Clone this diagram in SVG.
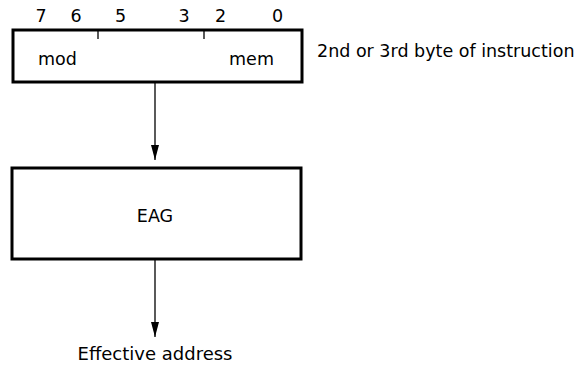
<svg xmlns="http://www.w3.org/2000/svg" width="580" height="365" viewBox="0 0 580 365">
<defs>
<marker id="ah" markerWidth="15" markerHeight="8" refX="15" refY="4" orient="auto" markerUnits="userSpaceOnUse" viewBox="0 0 15 8">
<path d="M0,0 L15,4 L0,8 Z" fill="#000"/>
</marker>
<style>
text{font-family:"DejaVu Sans","Liberation Sans",sans-serif;fill:#000;font-size:17.5px}
.box{fill:#fff;stroke:#000;stroke-width:3}
.ln{stroke:#000;stroke-width:1.3;fill:none}
</style>
</defs>
<rect width="580" height="365" fill="#fff"/>
<g id="byte">
<rect class="box" x="13" y="30" width="289" height="52"/>
<line class="ln" x1="98" y1="30" x2="98" y2="39"/>
<line class="ln" x1="204" y1="30" x2="204" y2="39"/>
<g text-anchor="middle">
<text x="41" y="22">7</text>
<text x="76" y="22">6</text>
<text x="120.5" y="22">5</text>
<text x="184" y="22">3</text>
<text x="220.5" y="22">2</text>
<text x="277.5" y="22">0</text>
</g>
<text x="57.5" y="65" text-anchor="middle">mod</text>
<text x="251.5" y="65" text-anchor="middle">mem</text>
</g>
<text id="byte-label" x="317" y="57">2nd or 3rd byte of instruction</text>
<g id="eag">
<rect class="box" x="12" y="168" width="289" height="91"/>
<text x="155" y="222" text-anchor="middle">EAG</text>
</g>
<text id="ea-label" x="155" y="360" text-anchor="middle" style="font-size:18px">Effective address</text>
<g id="connectors">
<line class="ln" x1="155" y1="82" x2="155" y2="160" marker-end="url(#ah)"/>
<line class="ln" x1="155" y1="259" x2="155" y2="337" marker-end="url(#ah)"/>
</g>
</svg>
